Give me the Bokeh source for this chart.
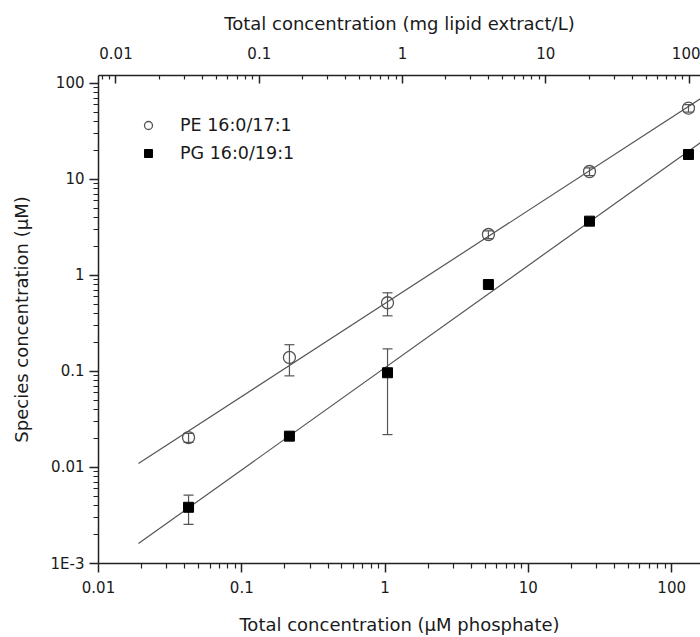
import numpy as np
from bokeh.plotting import figure
from bokeh.models import (LogAxis, Range1d, LogScale, FixedTicker, ColumnDataSource,
                          Whisker, TeeHead, Legend, LegendItem)
from bokeh.embed import file_html
from bokeh.resources import INLINE

# ---------------- data ----------------
total_uM = [0.0425, 0.215, 1.04, 5.26, 26.7, 131.0]   # µM phosphate
pe_conc = [0.0205, 0.14, 0.52, 2.67, 12.1, 55.3]
pe_err = [0.0022, 0.05, 0.14, 0.25, 1.1, 5.0]
pg_conc = [0.00385, 0.0212, 0.097, 0.805, 3.68, 18.2]
pg_err = [0.0013, 0.0, 0.075, 0.0, 0.0, 0.0]
fit_x_span = [0.019, 200.0]
mg_per_uM = 0.755   # conversion µM phosphate -> mg lipid extract/L

x_range_uM = [0.01, 158.9]
y_range_uM = [0.001, 121.0]

x_major = [0.01, 0.1, 1, 10, 100]
x_labels = ["0.01", "0.1", "1", "10", "100"]
top_major = [0.01, 0.1, 1, 10, 100]
top_labels = ["0.01", "0.1", "1", "10", "100"]
y_major = [0.001, 0.01, 0.1, 1, 10, 100]
y_labels = ["1E-3", "0.01", "0.1", "1", "10", "100"]

series_names = ["PE 16:0/17:1", "PG 16:0/19:1"]


def minors(lo_exp, hi_exp):
    out = []
    for e in range(lo_exp, hi_exp + 1):
        for m in range(2, 10):
            out.append(m * 10.0 ** e)
    return out


FONT = "DejaVu Sans"
TXT = "#1a1a1a"
LINE = "#555555"

p = figure(width=700, height=637, x_axis_type="log", y_axis_type="log",
           x_range=Range1d(*x_range_uM), y_range=Range1d(*y_range_uM),
           output_backend="svg", toolbar_location=None,
           min_border_left=98, min_border_right=0, min_border_top=75, min_border_bottom=74)
p.outline_line_color = None
p.xgrid.visible = False
p.ygrid.visible = False
p.background_fill_color = "white"
p.border_fill_color = "white"

p.extra_x_ranges = {"top": Range1d(x_range_uM[0] * mg_per_uM, x_range_uM[1] * mg_per_uM)}
p.extra_x_scales = {"top": LogScale()}


def style_axis(ax, labels_map, tick_in, tick_out, minor_in, minor_out, lab_standoff, title_standoff):
    ax.axis_line_color = "#222222"
    ax.axis_line_width = 1.5
    ax.major_tick_line_color = "#222222"
    ax.minor_tick_line_color = "#222222"
    ax.major_tick_line_width = 1.5
    ax.minor_tick_line_width = 1.2
    ax.major_tick_in = tick_in
    ax.major_tick_out = tick_out
    ax.minor_tick_in = minor_in
    ax.minor_tick_out = minor_out
    ax.major_label_text_font = FONT
    ax.major_label_text_font_size = "15px"
    ax.major_label_text_color = TXT
    ax.axis_label_text_font = FONT
    ax.axis_label_text_font_size = "18px"
    ax.axis_label_text_font_style = "normal"
    ax.axis_label_text_color = TXT
    ax.major_label_standoff = lab_standoff
    ax.axis_label_standoff = title_standoff
    ax.major_label_overrides = labels_map


# bottom axis
xa = p.xaxis[0]
xa.ticker = FixedTicker(ticks=x_major, minor_ticks=minors(-2, 2))
xa.axis_label = "Total concentration (µM phosphate)"
style_axis(xa, dict(zip(x_major, x_labels)), 0, 9, 0, 5, 8, 18)

# left axis
ya = p.yaxis[0]
ya.ticker = FixedTicker(ticks=y_major, minor_ticks=minors(-3, 2))
ya.axis_label = "Species concentration (µM)"
style_axis(ya, dict(zip(y_major, y_labels)), 0, 9, 0, 5, 5, 16)

# top axis
ta = LogAxis(x_range_name="top")
ta.ticker = FixedTicker(ticks=top_major, minor_ticks=minors(-3, 2))
ta.axis_label = "Total concentration (mg lipid extract/L)"
style_axis(ta, dict(zip(top_major, top_labels)), 8, 0, 4, 0, 17, 10)
p.add_layout(ta, "above")

# fits (least squares in log-log space)
fx = np.array(fit_x_span)
for conc in (pe_conc, pg_conc):
    slope, icpt = np.polyfit(np.log10(total_uM), np.log10(conc), 1)
    p.line(fx, 10 ** (icpt + slope * np.log10(fx)), line_color=LINE, line_width=1.2)

# error bars
for conc, err in ((pe_conc, pe_err), (pg_conc, pg_err)):
    c = np.array(conc)
    e = np.array(err)
    src = ColumnDataSource(dict(x=total_uM, lo=c - e, hi=c + e))
    w = Whisker(base="x", lower="lo", upper="hi", source=src, dimension="height",
                line_color=LINE, line_width=1.2,
                upper_head=TeeHead(size=10, line_color=LINE, line_width=1.2),
                lower_head=TeeHead(size=10, line_color=LINE, line_width=1.2))
    p.add_layout(w)

pe_r = p.scatter(total_uM, pe_conc, marker="circle", size=12, fill_color="white",
                 fill_alpha=0.0, line_color=LINE, line_width=1.3)
pg_r = p.scatter(total_uM, pg_conc, marker="square", size=10, fill_color="black",
                 line_color="black")

legend = Legend(items=[LegendItem(label=series_names[0], renderers=[pe_r]),
                       LegendItem(label=series_names[1], renderers=[pg_r])],
                location=(40, 400), padding=0, margin=0, spacing=8,
                glyph_width=20, glyph_height=20, label_height=20, label_standoff=22,
                border_line_color=None, background_fill_alpha=0.0,
                label_text_font=FONT, label_text_font_size="17.5px", label_text_color=TXT)
p.add_layout(legend)

open("out.html", "w").write(file_html(p, INLINE))
